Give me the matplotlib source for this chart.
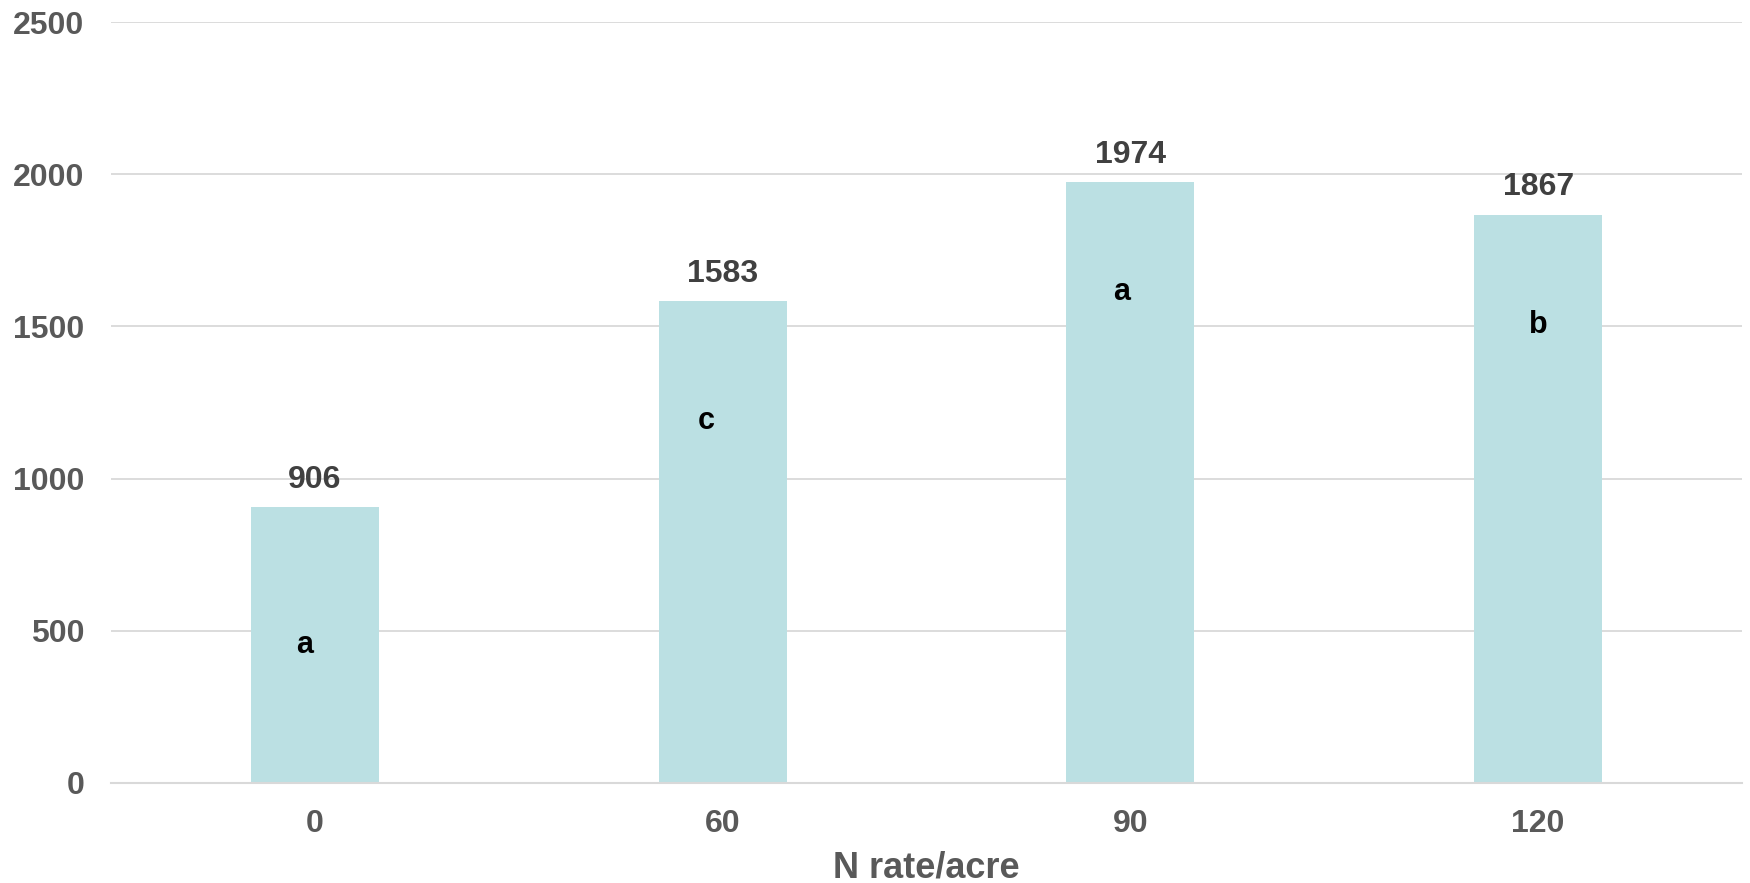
import matplotlib.pyplot as plt

# N rate trial: yield per treatment with mean-separation letters
rates = ["0", "60", "90", "120"]
yields = [906, 1583, 1974, 1867]
letters = ["a", "c", "a", "b"]
letter_y = [453, 1189, 1612, 1504]
letter_dx = [-0.025, -0.041, -0.022, 0.0]

plt.rcParams["font.family"] = ["Liberation Sans", "DejaVu Sans"]
plt.rcParams["font.weight"] = "bold"

fig = plt.figure(figsize=(17.5, 8.83), dpi=100)
ax = fig.add_axes([0.0634, 0.1133, 0.932, 0.8617])

x = range(len(rates))
ax.bar(x, yields, width=0.314, color="#BBE0E3", zorder=2)

# value labels above bars
for i, v in enumerate(yields):
    ax.annotate(str(v), (i, v), xytext=(0, 9), textcoords="offset points",
                ha="center", va="bottom", fontsize=23, fontweight="bold",
                color="#404040")

# significance letters inside bars
for i, (lt, ly, dx) in enumerate(zip(letters, letter_y, letter_dx)):
    ax.text(i + dx, ly, lt, ha="center", va="center", fontsize=22,
            fontweight="bold", color="black", zorder=3)

ax.set_xlim(-0.5, 3.5)
ax.set_ylim(0, 2500)
ax.set_yticks(range(0, 2501, 500))
ax.set_xticks(list(x))
ax.set_xticklabels(rates)

ax.grid(axis="y", color="#D9D9D9", linewidth=1.3, zorder=0)
ax.set_axisbelow(True)
for side in ["top", "right", "left"]:
    ax.spines[side].set_visible(False)
ax.spines["bottom"].set_color("#D9D9D9")
ax.spines["bottom"].set_linewidth(1.5)

ax.tick_params(axis="both", length=0, labelsize=23, labelcolor="#595959")
ax.tick_params(axis="y", pad=19)
ax.tick_params(axis="x", pad=19)
for lab in ax.get_xticklabels() + ax.get_yticklabels():
    lab.set_fontweight("bold")

ax.set_xlabel("N rate/acre", fontsize=26, fontweight="bold", color="#595959",
              labelpad=8)

fig.savefig("out.png", dpi=100)
